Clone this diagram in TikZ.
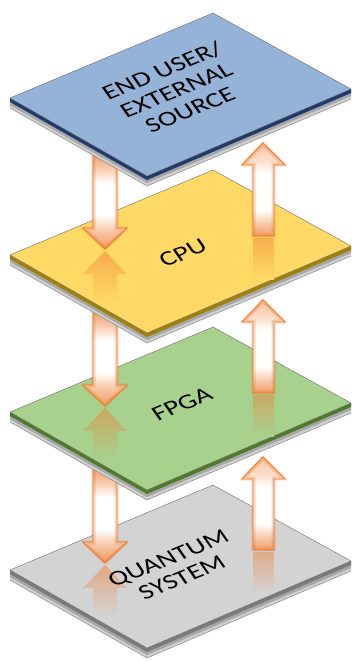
\documentclass[tikz,border=0pt]{standalone}
\usepackage{fontspec}
\setmainfont{Carlito}

% plate colours
\definecolor{blueface}{HTML}{95B3D7}
\definecolor{blueedge}{HTML}{203A6B}
\definecolor{cpuface}{HTML}{FFD966}
\definecolor{cpuedge}{HTML}{A08009}
\definecolor{fpgaface}{HTML}{A9D18E}
\definecolor{fpgaedge}{HTML}{4F7A2C}
\definecolor{qface}{HTML}{D3D3D3}
\definecolor{qedge}{HTML}{7A7A7A}
\definecolor{sidemid}{HTML}{A6A6A6}
\definecolor{sidelight}{HTML}{CFCFCF}
\definecolor{sideline}{HTML}{8A8A8A}
\definecolor{faceline}{HTML}{6B6B6B}
% arrow colours
\definecolor{arrowline}{HTML}{ED7D31}
\definecolor{arrowdeep}{HTML}{F19B63}
\definecolor{arrowpeach}{HTML}{F7C4A2}
\definecolor{arrowsoft}{HTML}{FBDCC8}

\pgfdeclareverticalshading{dnfill}{100bp}{color(0bp)=(arrowdeep); color(25bp)=(arrowdeep);
  color(33bp)=(arrowpeach); color(41bp)=(white); color(56bp)=(white);
  color(64bp)=(arrowpeach); color(70bp)=(arrowdeep); color(100bp)=(arrowdeep)}
\pgfdeclareverticalshading{upfill}{100bp}{color(0bp)=(arrowdeep); color(25bp)=(arrowdeep);
  color(31bp)=(arrowpeach); color(39bp)=(white); color(59bp)=(white);
  color(66bp)=(arrowsoft); color(75bp)=(arrowpeach); color(100bp)=(arrowpeach)}

\tikzset{
  glowwide/.style={draw=arrowline, draw opacity=0.12, line width=4pt, line join=round},
  glownarrow/.style={draw=arrowline, draw opacity=0.22, line width=2.2pt, line join=round},
  innerglow/.style={draw=arrowline, draw opacity=0.28, line width=5pt, line join=miter},
  arrowborder/.style={draw=arrowline, line width=0.9pt, line join=miter},
  platelabel/.style={cm={0.927,0.375,-0.459,0.655,(0,0)}, transform shape,
    align=center, inner sep=0pt, text=black,
    font=\fontsize{28}{30}\selectfont},
}

% a plate whose top corner lies at height #1
\newcommand\slab[3]{%
  \begin{scope}[shift={(0,#1)}]
    \fill[sidelight] (10,85) -- (147,163) -- (351,76) -- (351,86) -- (147,173) -- (10,95) -- cycle;
    \fill[sidemid] (10,85) -- (147,163) -- (351,76) -- (351,83) -- (147,170) -- (10,92) -- cycle;
    \fill[#3] (10,85) -- (147,163) -- (351,76) -- (351,80) -- (147,167) -- (10,89) -- cycle;
    \draw[sideline, line width=0.5pt] (10,95) -- (147,173) -- (351,86);
    \filldraw[fill=#2, draw=faceline, line width=0.4pt, line join=round]
      (213,0) -- (351,76) -- (147,163) -- (10,85) -- cycle;
  \end{scope}}

% block arrow outlines, relative to the upper plate
\newcommand\dropshape[1]{\path[#1] (93,130) -- (117,130) -- (117,215) -- (127,215)
  -- (105,236) -- (83,215) -- (93,215) -- cycle;}
\newcommand\riseshape[1]{\path[#1] (263,130) -- (285,152) -- (274,152) -- (274,223)
  -- (253,223) -- (253,152) -- (242,152) -- cycle;}

% the two arrows between the plate at #1 and the one below it (face colour #2)
\newcommand\arrowpair[2]{%
  \begin{scope}[shift={(0,#1)}]
    % mirror images on the lower plate
    \path[top color=arrowline!50!#2, middle color=arrowline!22!#2, bottom color=#2]
      (105,238) -- (127,261) -- (117,261) -- (117,288) -- (93,288) -- (93,261) -- (83,261) -- cycle;
    \path[top color=arrowline!45!#2, bottom color=#2] (253,225) rectangle (274,266);
    % downward arrow
    \dropshape{glowwide}
    \dropshape{glownarrow}
    \dropshape{shade, shading=dnfill}
    \begin{scope}
      \dropshape{clip}
      \dropshape{innerglow}
    \end{scope}
    \dropshape{arrowborder}
    % upward arrow
    \riseshape{glowwide}
    \riseshape{glownarrow}
    \riseshape{shade, shading=upfill}
    \begin{scope}
      \riseshape{clip}
      \riseshape{innerglow}
    \end{scope}
    \riseshape{arrowborder}
  \end{scope}}

\begin{document}
\begin{tikzpicture}[x=1pt, y=-1pt]
  \useasboundingbox (0,0) rectangle (352,661);

  % stack, drawn from the bottom plate upwards
  \slab{485}{qface}{qedge}
  \arrowpair{327}{qface}
  \slab{327}{fpgaface}{fpgaedge}
  \arrowpair{170}{fpgaface}
  \slab{170}{cpuface}{cpuedge}
  \arrowpair{13}{cpuface}
  \slab{13}{blueface}{blueedge}

  % plate labels
  \begin{scope}[shift={(176,90)}]
    \node[platelabel] (user) {END USER/\\EXTERNAL\\SOURCE};
  \end{scope}
  \begin{scope}[shift={(183,253)}]
    \node[platelabel] (cpu) {CPU};
  \end{scope}
  \begin{scope}[shift={(182,404)}]
    \node[platelabel] (fpga) {FPGA};
  \end{scope}
  \begin{scope}[shift={(175,568)}]
    \node[platelabel] (quantum) {QUANTUM\\SYSTEM};
  \end{scope}
\end{tikzpicture}
\end{document}
